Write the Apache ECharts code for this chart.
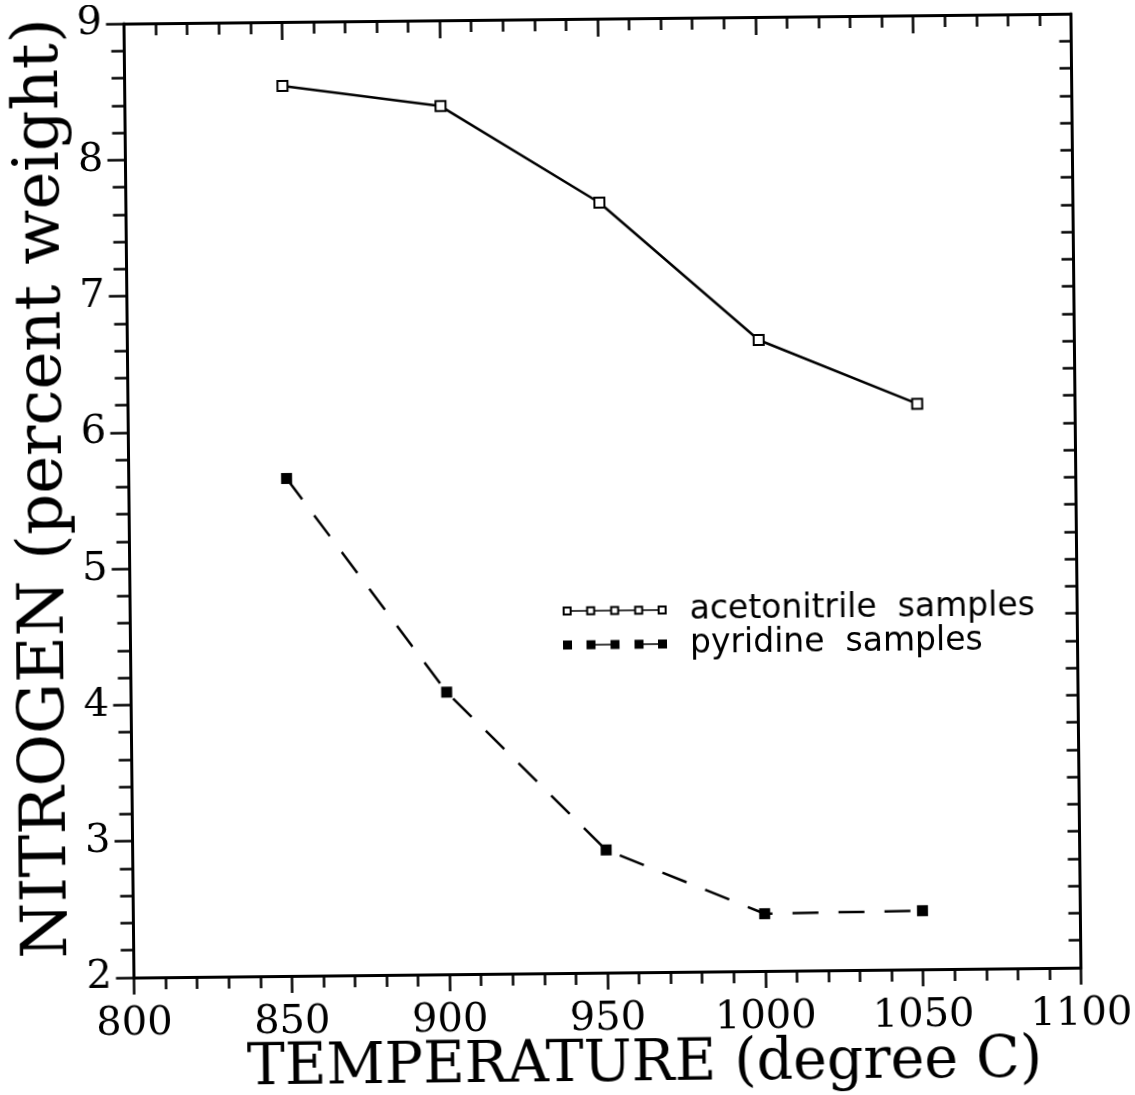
<!DOCTYPE html>
<html>
<head>
<meta charset="utf-8">
<title>Nitrogen content vs temperature</title>
<script src="https://cdn.jsdelivr.net/npm/echarts@6/dist/echarts.min.js"></script>
<style>
  html, body { margin: 0; padding: 0; background: #fff; overflow: hidden; }
  #chart { width: 1135px; height: 1095px; transform: rotate(-0.6deg); transform-origin: 50% 50%; }
</style>
</head>
<body>
<div id="chart"></div>
<script>
// Pyrolysis temperature (degree C)
const temperatures = [850, 900, 950, 1000, 1050];
// Nitrogen content, percent weight
const acetonitrile = [8.53, 8.37, 7.65, 6.63, 6.15];
const pyridine = [5.65, 4.07, 2.90, 2.42, 2.43];

// Axis ranges and tick spacing
const xRange = { min: 800, max: 1100, interval: 50 };
const yRange = { min: 2, max: 9, interval: 1 };

const seriesNames = ['acetonitrile  samples', 'pyridine  samples'];

const pairs = (ys) => temperatures.map((t, i) => [t, ys[i]]);

// Legend glyphs: a row of five small squares, linked by line segments
const legendCenters = [4.5, 28, 52, 76, 99.5];
function legendPath(hollow, links) {
  const h = 4.5;
  let d = '';
  legendCenters.forEach((c) => {
    const a = c - h, b = c + h;
    d += `M${a} 0L${b} 0L${b} 9L${a} 9Z`;
    if (hollow) d += `M${a + 2} 2L${a + 2} 7L${b - 2} 7L${b - 2} 2Z`;
  });
  links.forEach((k) => {
    const a = legendCenters[k] + h, b = legendCenters[k + 1] - h;
    d += `M${a} 3.8L${b} 3.8L${b} 5.2L${a} 5.2Z`;
  });
  return 'path://' + d;
}

const black = '#000';
const serif = 'DejaVu Serif';
const plain = (v) => String(v);

const frameLine = { show: true, onZero: false, lineStyle: { color: black, width: 3 } };
const tickStyle = { color: black, width: 2.5 };

const chart = echarts.init(document.getElementById('chart'), null, { renderer: 'canvas' });

chart.setOption({
  backgroundColor: '#fff',
  animation: false,
  grid: {
    left: 129.5, right: 58.5, top: 19, bottom: 122,
    containLabel: false, outerBoundsMode: 'none'
  },
  legend: {
    orient: 'vertical',
    left: 557,
    top: 589,
    itemWidth: 104,
    itemHeight: 9,
    itemGap: 0,
    data: [
      { name: seriesNames[0], icon: legendPath(true, [0, 1, 2, 3]) },
      { name: seriesNames[1], icon: legendPath(false, [1, 3]) }
    ],
    itemStyle: { color: black, borderWidth: 0 },
    textStyle: {
      fontFamily: 'DejaVu Sans', fontSize: 33, lineHeight: 34, color: black,
      padding: [0, 0, 0, 18]
    },
    selectedMode: false
  },
  xAxis: [
    {
      type: 'value', position: 'bottom',
      min: xRange.min, max: xRange.max, interval: xRange.interval,
      axisLine: frameLine,
      axisTick: { show: true, inside: false, length: 17, lineStyle: tickStyle },
      minorTick: { show: true, splitNumber: 5, length: 12, lineStyle: tickStyle },
      splitLine: { show: false },
      axisLabel: { margin: 27, fontFamily: serif, fontSize: 40, color: black, formatter: plain },
      name: 'TEMPERATURE (degree C)',
      nameLocation: 'middle',
      nameGap: 65,
      nameMoveOverlap: false,
      nameTextStyle: { fontFamily: serif, fontSize: 57, color: black, padding: [0, 0, 0, 72] }
    },
    {
      type: 'value', position: 'top',
      min: xRange.min, max: xRange.max, interval: xRange.interval,
      axisLine: frameLine,
      axisTick: { show: true, inside: true, length: 18, lineStyle: tickStyle },
      minorTick: { show: true, splitNumber: 5, length: 12, lineStyle: tickStyle },
      splitLine: { show: false },
      axisLabel: { show: false }
    }
  ],
  yAxis: [
    {
      type: 'value', position: 'left',
      min: yRange.min, max: yRange.max, interval: yRange.interval,
      axisLine: frameLine,
      axisTick: { show: true, inside: false, length: 18, lineStyle: tickStyle },
      minorTick: { show: true, splitNumber: 5, length: 13, lineStyle: tickStyle },
      splitLine: { show: false },
      axisLabel: { margin: 22, fontFamily: serif, fontSize: 40, color: black, formatter: plain },
      name: 'NITROGEN (percent weight)',
      nameLocation: 'middle',
      nameGap: 52,
      nameMoveOverlap: false,
      nameTextStyle: { fontFamily: serif, fontSize: 64, color: black, padding: [0, 0, 0, 26] }
    },
    {
      type: 'value', position: 'right',
      min: yRange.min, max: yRange.max, interval: yRange.interval,
      axisLine: frameLine,
      axisTick: { show: true, inside: true, length: 12, lineStyle: tickStyle },
      minorTick: { show: true, splitNumber: 5, length: 12, lineStyle: tickStyle },
      splitLine: { show: false },
      axisLabel: { show: false }
    }
  ],
  series: [
    {
      name: seriesNames[0],
      type: 'line',
      xAxisIndex: 0, yAxisIndex: 0,
      data: pairs(acetonitrile),
      symbol: 'emptyRect',
      symbolSize: 10,
      lineStyle: { color: black, width: 2.5, type: 'solid' },
      itemStyle: { color: black, borderColor: black, borderWidth: 2.5 },
      z: 3
    },
    {
      name: seriesNames[1],
      type: 'line',
      xAxisIndex: 0, yAxisIndex: 0,
      data: pairs(pyridine),
      symbol: 'rect',
      symbolSize: 11,
      lineStyle: { color: black, width: 2.5, type: [26, 20] },
      itemStyle: { color: black, borderWidth: 0 },
      z: 3
    }
  ]
});
</script>
</body>
</html>
